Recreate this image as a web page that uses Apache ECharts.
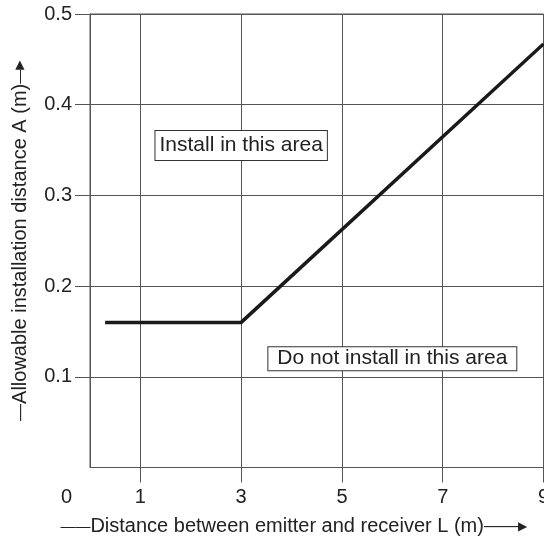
<!DOCTYPE html>
<html><head><meta charset="utf-8">
<script src="https://cdn.jsdelivr.net/npm/echarts@6/dist/echarts.min.js"></script>
<style>html,body{margin:0;padding:0;background:#fff}#c{width:544px;height:537px}</style>
</head><body><div id="c"></div>
<script>
// Data
const xLabelValues = [0, 1, 3, 5, 7, 9];
const xTickValues = [1, 3, 5, 7, 9];
const xGridValues = [1, 3, 5, 7];
const yLabelValues = [0.1, 0.2, 0.3, 0.4, 0.5];
const curveL = [0.3, 3, 9];
const curveA = [0.16, 0.16, 0.467];
const noteTexts = ['Install in this area', 'Do not install in this area'];
const noteL = [3, 6];
const noteA = [0.355, 0.12];
const xTitle = 'Distance between emitter and receiver L (m)';
const yTitle = 'Allowable installation distance A (m)';

const FONT = '"Liberation Sans", Arial, Helvetica, sans-serif';
const TXT = '#222';
const LINE = '#555';
const DASH = '\u2014';
const HEAD = '\u25B6';

const chart = echarts.init(document.getElementById('c'), null, {renderer: 'canvas'});
const noteStyles = [
  {padding: [3, 4, 3, 4], lineHeight: 23},
  {padding: [1, 9, 0, 9], lineHeight: 22}
];
const nameRich = {
  lx: {fontSize: 15, color: TXT, fontFamily: FONT},
  rx: {fontSize: 17, color: TXT, fontFamily: FONT},
  ly: {fontSize: 17, color: TXT, fontFamily: FONT},
  ry: {fontSize: 14, color: TXT, fontFamily: FONT},
  a: {fontSize: 12, color: TXT, fontFamily: '"DejaVu Sans", sans-serif'}
};
chart.setOption({
  animation: false,
  backgroundColor: '#fff',
  textStyle: {fontFamily: FONT},
  grid: {left: 90, right: 0.5, top: 14, bottom: 69.5, show: true, borderColor: LINE, borderWidth: 1, outerBoundsMode: 'none', containLabel: false},
  xAxis: {
    type: 'value', min: 0, max: 9, interval: 1,
    name: '{lx|' + DASH + DASH + '}' + xTitle + '{rx|' + DASH + DASH + '}{a|' + HEAD + '}',
    nameLocation: 'middle', nameGap: 49,
    nameTextStyle: {fontSize: 20, color: TXT, fontFamily: FONT, rich: nameRich, padding: [0, 46, 0, 0]},
    axisLine: {show: true, lineStyle: {color: LINE, width: 1}},
    axisTick: {show: true, inside: false, length: 15, customValues: xTickValues, lineStyle: {color: LINE, width: 1}},
    axisLabel: {
      customValues: xLabelValues, margin: 20, fontSize: 20, color: TXT, fontFamily: FONT,
      formatter: v => v === 0 ? '{z|0}' : String(v),
      rich: {z: {fontSize: 20, color: TXT, fontFamily: FONT, padding: [0, 47, 0, 0]}}
    },
    splitLine: {show: false}
  },
  yAxis: {
    type: 'value', min: 0, max: 0.5, interval: 0.1,
    name: '{ly|' + DASH + '}' + yTitle + '{ry|' + DASH + '}{a|' + HEAD + '}',
    nameLocation: 'middle', nameGap: 60, nameRotate: 90,
    nameTextStyle: {fontSize: 20, color: TXT, fontFamily: FONT, rich: nameRich},
    axisLine: {show: true, lineStyle: {color: LINE, width: 1}},
    axisTick: {show: true, inside: false, length: 15, customValues: yLabelValues, lineStyle: {color: LINE, width: 1}},
    axisLabel: {customValues: yLabelValues, margin: 18, fontSize: 20, color: TXT, fontFamily: FONT,
      formatter: v => v.toFixed(1)},
    splitLine: {show: true, lineStyle: {color: LINE, width: 1}}
  },
  series: [
    {
      type: 'line', data: [], z: 1, silent: true,
      markLine: {
        silent: true, symbol: 'none', animation: false,
        label: {show: false},
        lineStyle: {color: LINE, width: 1, type: 'solid'},
        data: xGridValues.map(v => ({xAxis: v}))
      }
    },
    {
      type: 'line', z: 5, silent: true,
      data: curveL.map((x, i) => [x, curveA[i]]),
      symbol: 'none',
      lineStyle: {color: '#1a1a1a', width: 3.5, cap: 'butt', join: 'miter'},
      markPoint: {
        silent: true, symbol: 'rect', symbolSize: 1, itemStyle: {color: 'rgba(0,0,0,0)'},
        data: noteTexts.map((t, i) => ({
          name: t, coord: [noteL[i], noteA[i]],
          label: Object.assign({
            show: true, position: 'inside', formatter: p => p.name,
            fontSize: 21, color: TXT, fontFamily: FONT,
            backgroundColor: '#fff', borderColor: '#333', borderWidth: 1
          }, noteStyles[i])
        }))
      }
    }
  ]
});
</script></body></html>
